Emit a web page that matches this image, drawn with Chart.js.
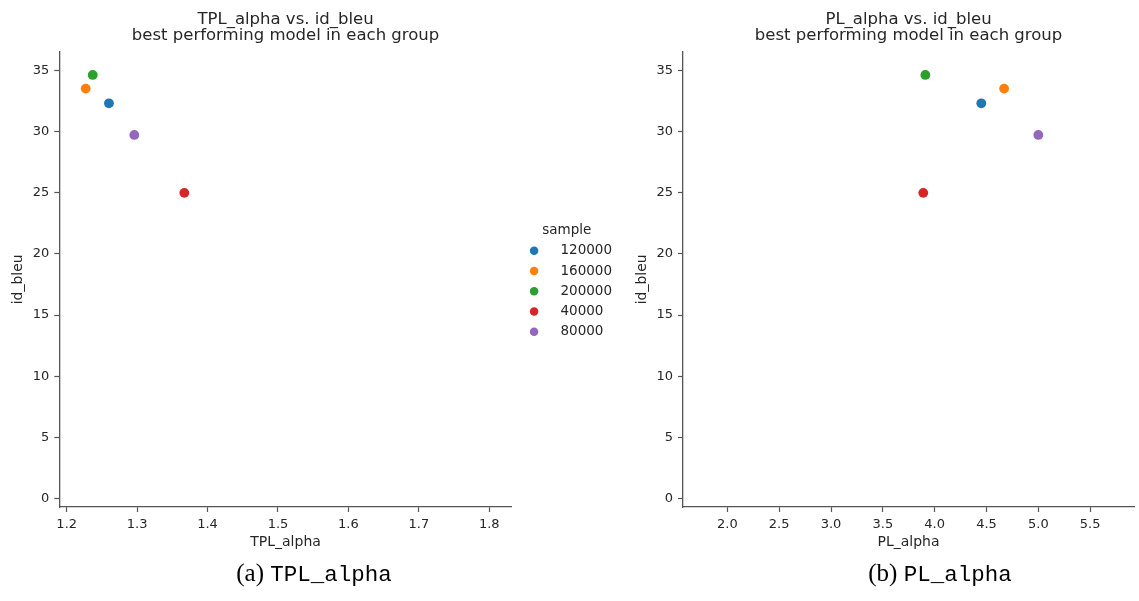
<!DOCTYPE html>
<html>
<head>
<meta charset="utf-8">
<script src="https://cdn.jsdelivr.net/npm/chart.js@4/dist/chart.umd.min.js"></script>
<style>
  body { margin: 0; width: 1139px; height: 601px; position: relative; background: #fff; overflow: hidden; }
  .panel { position: absolute; top: 0; }
  .cap { position: absolute; top: 559px; width: 400px; text-align: center; line-height: 28px; color: #000; }
  .cap .serif { font-family: "Liberation Serif", "DejaVu Serif", serif; font-size: 25px; }
  .cap .mono { font-family: "Liberation Mono", "DejaVu Sans Mono", monospace; font-size: 22.5px; }
</style>
</head>
<body>
<div class="panel" style="left:0;"><canvas id="tplChart" width="613" height="560"></canvas></div>
<div class="panel" style="left:620px;"><canvas id="plChart" width="519" height="560"></canvas></div>
<div class="cap" style="left:114px;"><span class="serif">(a) </span><span class="mono">TPL_alpha</span></div>
<div class="cap" style="left:740px;"><span class="serif">(b) </span><span class="mono">PL_alpha</span></div>
<script>
// one point per sample group (best model in each group)
const samples = ['120000', '160000', '200000', '40000', '80000'];
const tplAlpha = [1.260, 1.227, 1.237, 1.367, 1.296];
const plAlpha = [4.45, 4.67, 3.91, 3.89, 5.00];
const idBleu = [32.33, 33.53, 34.65, 25.00, 29.74];
const colors = ['#1f77b4', '#ff7f0e', '#2ca02c', '#d62728', '#9467bd'];

const yTicks = [0, 5, 10, 15, 20, 25, 30, 35];
const tplTicks = [1.2, 1.3, 1.4, 1.5, 1.6, 1.7, 1.8];
const plTicks = [2.0, 2.5, 3.0, 3.5, 4.0, 4.5, 5.0, 5.5];

const textColor = '#262626';
const axisColor = '#555';
const font = 'DejaVu Sans';

function makeDatasets(xs) {
    return samples.map((s, i) => ({
        label: s,
        data: [{ x: xs[i], y: idBleu[i] }],
        backgroundColor: colors[i],
        borderWidth: 0,
        pointRadius: 4.9,
        pointStyle: 'circle',
    }));
}

function axis(ticks, min, max, title, fit, fmt, titlePad) {
    return {
        type: 'linear',
        min, max,
        afterBuildTicks: s => { s.ticks = ticks.map(v => ({ value: v })); },
        afterFit: fit,
        grid: { drawOnChartArea: false, drawTicks: true, tickLength: 5, tickColor: axisColor, tickWidth: 1.2 },
        border: { display: true, color: axisColor, width: 1.3 },
        ticks: { color: textColor, font: { family: font, size: 13 }, padding: 5, callback: fmt },
        title: { display: true, text: title, color: textColor, font: { family: font, size: 14 }, padding: titlePad },
    };
}

function makeChart(el, xs, xTicks, xMin, xMax, xName, yWidth, yTitlePad, extra) {
    const scales = {
        x: axis(xTicks, xMin, xMax, xName, s => { s.height = 53; }, v => v.toFixed(1), { top: 0, bottom: 9 }),
        y: axis(yTicks, -0.7, 36.55, 'id_bleu', s => { s.width = yWidth; }, v => String(v), { top: yTitlePad, bottom: 0 }),
    };
    Object.assign(scales, extra.scales || {});
    return new Chart(el, {
        type: 'scatter',
        data: { datasets: makeDatasets(xs) },
        options: {
            responsive: false,
            animation: false,
            layout: { padding: extra.padding },
            scales,
            plugins: {
                title: {
                    display: true,
                    fullSize: false,
                    text: [xName + ' vs. id_bleu', 'best performing model in each group'],
                    color: textColor,
                    font: { family: font, size: 16.5, weight: 'normal', lineHeight: 1.0 },
                    padding: { top: 11.3, bottom: 7.4 },
                },
                legend: extra.legend || { display: false },
                tooltip: { enabled: false },
            },
        },
    });
}

// left panel carries the legend on its right side
makeChart(document.getElementById('tplChart'), tplAlpha, tplTicks, 1.1895, 1.832, 'TPL_alpha', 59.3, 10, {
    padding: { left: 0, right: 0, top: 0, bottom: 0 },
    scales: {
        gap: {
            type: 'linear', position: 'right', display: true,
            grid: { display: false, drawTicks: false },
            border: { display: false },
            ticks: { display: false },
            afterFit: s => { s.width = 8.8; },
        },
    },
    legend: {
        display: true,
        position: 'right',
        align: 'center',
        maxWidth: 92.4,
        title: { display: true, text: 'sample', color: textColor, font: { family: font, size: 13.5 }, padding: { top: 9.5, bottom: -3 } },
        labels: {
            usePointStyle: true,
            boxHeight: 6,
            padding: 6.75,
            color: textColor,
            font: { family: font, size: 13.5 },
            generateLabels: chart => Chart.defaults.plugins.legend.labels.generateLabels(chart)
                .map(l => ({ ...l, text: '   ' + l.text })),
        },
    },
});

makeChart(document.getElementById('plChart'), plAlpha, plTicks, 1.572, 5.924, 'PL_alpha', 63, 14, {
    padding: { left: 0, right: 4, top: 0, bottom: 0 },
});
</script>
</body>
</html>
